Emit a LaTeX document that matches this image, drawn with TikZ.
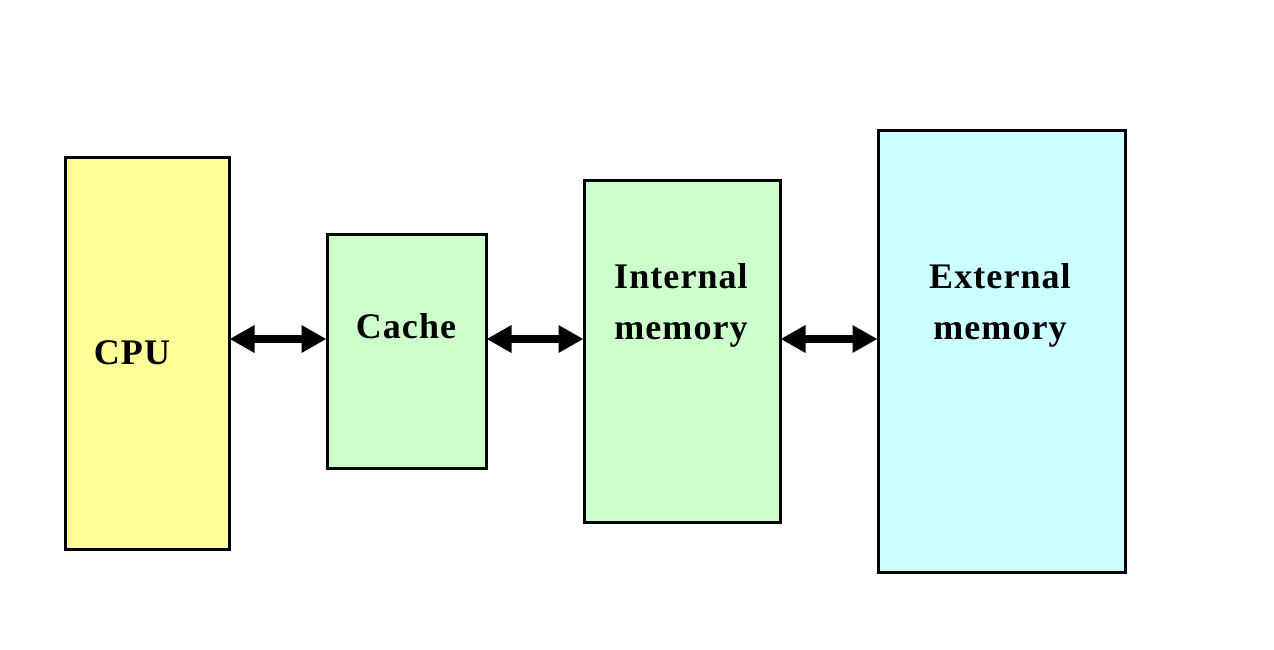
\documentclass[tikz,border=0pt]{standalone}
\usepackage{fontspec}
\setmainfont{Liberation Serif}[LetterSpace=3]
\usetikzlibrary{arrows.meta}
\definecolor{cpuyellow}{HTML}{FFFF99}
\definecolor{cachegreen}{HTML}{CCFFCC}
\definecolor{extcyan}{HTML}{CCFFFF}
\tikzset{
  unitbox/.style={draw, line width=3pt, inner sep=0pt},
  unitlabel/.style={font=\fontsize{36}{51}\selectfont\bfseries, align=center, inner sep=0pt},
  biarrow/.style={line width=7.5pt, {Triangle[length=25pt,width=26pt]}-{Triangle[length=25pt,width=26pt]}, shorten <=-1pt, shorten >=-1pt}
}
\begin{document}
\begin{tikzpicture}[x=1pt, y=1pt]
\useasboundingbox (0,0) rectangle (1274,650);
\node[unitbox, fill=cpuyellow, minimum width=164pt, minimum height=392pt] (cpu) at (147,296){};
\node[unitbox, fill=cachegreen, minimum width=159pt, minimum height=234pt] (cache) at (406.5,298){};
\node[unitbox, fill=cachegreen, minimum width=196pt, minimum height=342pt] (intmem) at (682,298){};
\node[unitbox, fill=extcyan, minimum width=247pt, minimum height=442pt] (extmem) at (1001.5,298){};
\node[unitlabel] (cpulbl) at (132,297){CPU};
\node[unitlabel] (cachelbl) at (406,324){Cache};
\node[unitlabel] (intlbl) at (681,345){Internal\\memory};
\node[unitlabel] (extlbl) at (1000,345){External\\memory};
\coordinate (bus) at (0,311);
\draw[biarrow] (cpu.east |- bus) -- (cache.west |- bus);
\draw[biarrow] (cache.east |- bus) -- (intmem.west |- bus);
\draw[biarrow] (intmem.east |- bus) -- (extmem.west |- bus);
\end{tikzpicture}
\end{document}
